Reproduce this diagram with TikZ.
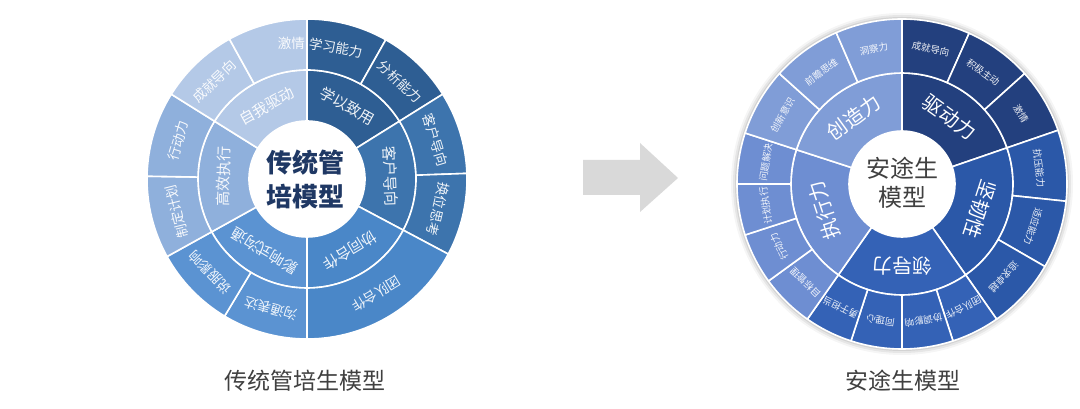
\documentclass[tikz,border=0pt]{standalone}
\usepackage{fontspec}
\setmainfont{Noto Sans CJK SC}
\usetikzlibrary{calc}
\definecolor{lA}{HTML}{2E5E93}
\definecolor{lB}{HTML}{3D74AD}
\definecolor{lC}{HTML}{4A87C8}
\definecolor{lD}{HTML}{5B93D2}
\definecolor{lE}{HTML}{8FB0DC}
\definecolor{lF}{HTML}{B4C9E7}
\definecolor{rA}{HTML}{23407E}
\definecolor{rB}{HTML}{2B58A8}
\definecolor{rC}{HTML}{3462B6}
\definecolor{rD}{HTML}{6E8ED2}
\definecolor{rE}{HTML}{809DD7}
\definecolor{navy}{HTML}{1F3864}
\definecolor{darkgray}{HTML}{404040}
\definecolor{arrowgray}{HTML}{D9D9D9}
\newcommand\wseg[8]{%
  \filldraw[fill=#5, draw=white, line width=1.6pt, line join=round] (#3:#2pt) arc[start angle=#3, end angle=#4, radius=#2pt] -- (#4:#1pt) arc[start angle=#4, end angle=#3, radius=#1pt] -- cycle;
  \pgfmathsetmacro\wmid{(#3+#4)/2}%
  \pgfmathsetmacro\wrad{(#1+#2)/2}%
  \pgfmathsetmacro\wrot{\wmid-90}%
  \node[#8, rotate=\wrot] (#6) at (\wmid:\wrad pt) {#7};%
}
\tikzset{
  lin/.style={text=white, font=\fontsize{15}{15}\selectfont, inner sep=0pt, opacity=0.92},
  lout/.style={text=white, font=\fontsize{13.5}{14}\selectfont, inner sep=0pt, opacity=0.92},
  rin/.style={text=white, font=\fontsize{20}{20}\selectfont, inner sep=0pt},
  rout/.style={text=white, font=\fontsize{9.5}{10}\selectfont, inner sep=0pt, opacity=0.92},
  caption/.style={text=darkgray, font=\fontsize{23}{25}\selectfont},
}
\begin{document}
\begin{tikzpicture}[x=1pt,y=1pt]
\useasboundingbox (0,0) rectangle (1080,409);
\fill[white] (0,0) rectangle (1080,409);
% ---------- left wheel ----------
\begin{scope}[shift={(307,230)}]
  % inner ring
  \wseg{58}{109}{90}{32}{lA}{l1}{学以致用}{lin}
  \wseg{58}{109}{32}{-28}{lB}{l2}{客户导向}{lin}
  \wseg{58}{109}{-28}{-90}{lC}{l3}{协同合作}{lin}
  \wseg{58}{109}{-90}{-151}{lD}{l4}{影响式沟通}{lin}
  \wseg{58}{109}{209}{148}{lE}{l5}{高效执行}{lin}
  \wseg{58}{109}{148}{90}{lF}{l6}{自我驱动}{lin}
  % outer ring
  \wseg{109}{160}{90}{60.5}{lA}{o1}{}{lout}
  \wseg{109}{160}{60.5}{32}{lA}{o2}{分析能力}{lout}
  \wseg{109}{160}{32}{2}{lB}{o3}{客户导向}{lout}
  \wseg{109}{160}{2}{-28}{lB}{o4}{换位思考}{lout}
  \wseg{109}{160}{-28}{-90}{lC}{o5}{团队合作}{lout}
  \wseg{109}{160}{-90}{-121}{lD}{o6}{沟通表达}{lout}
  \wseg{109}{160}{-121}{-151}{lD}{o7}{说服影响}{lout}
  \wseg{109}{160}{209}{179}{lE}{o8}{制定计划}{lout}
  \wseg{109}{160}{179}{148}{lE}{o9}{行动力}{lout}
  \wseg{109}{160}{148}{119}{lF}{o10}{成就导向}{lout}
  \wseg{109}{160}{119}{90}{lF}{o11}{}{lout}
  \node[lout, anchor=east] (o11t) at (-2,136) {激情};
  \node[lout, anchor=west, rotate=-10] (o1t) at (2,136) {学习能力};
  \node[text=navy, font=\fontsize{26}{34}\selectfont\bfseries, align=center] (lc) at (-2,0) {传统管\\培模型};
\end{scope}
\node[caption] (lcap) at (305,28) {传统管培生模型};
% ---------- arrow ----------
\fill[arrowgray] (583,249) -- (640,249) -- (640,266) -- (678,231) -- (640,197) -- (640,214) -- (583,214) -- cycle;
% ---------- right wheel ----------
\begin{scope}[shift={(902,225)}]
  \foreach \r/\o in {171/0.04,169/0.06,167/0.08}{\fill[black, opacity=\o] (0,0) circle[radius=\r pt];}
  \fill[white] (0,0) circle[radius=60pt];
  % inner ring
  \wseg{53}{111}{90}{19}{rA}{r1}{驱动力}{rin}
  \wseg{53}{111}{19}{-55}{rB}{r2}{坚韧性}{rin}
  \wseg{53}{111}{-55}{-125}{rC}{r3}{领导力}{rin}
  \wseg{53}{111}{235}{162}{rD}{r4}{执行力}{rin}
  \wseg{53}{111}{162}{90}{rE}{r5}{创造力}{rin}
  % outer ring
  \wseg{111}{165}{90}{66}{rA}{s1}{成就导向}{rout}
  \wseg{111}{165}{66}{42}{rA}{s2}{积极主动}{rout}
  \wseg{111}{165}{42}{19}{rA}{s3}{激情}{rout}
  \wseg{111}{165}{19}{-6}{rB}{s4}{抗压能力}{rout}
  \wseg{111}{165}{-6}{-30}{rB}{s5}{适应能力}{rout}
  \wseg{111}{165}{-30}{-55}{rB}{s6}{追求卓越}{rout}
  \wseg{111}{165}{-55}{-72}{rC}{s7}{团队合作}{rout}
  \wseg{111}{165}{-72}{-90}{rC}{s8}{协调影响}{rout}
  \wseg{111}{165}{-90}{-108}{rC}{s9}{同理心}{rout}
  \wseg{111}{165}{-108}{-125}{rC}{s10}{勇于担当}{rout}
  \wseg{111}{165}{235}{216}{rD}{s11}{目标管理}{rout}
  \wseg{111}{165}{216}{198}{rD}{s12}{行动力}{rout}
  \wseg{111}{165}{198}{180}{rD}{s13}{计划执行}{rout}
  \wseg{111}{165}{180}{162}{rD}{s14}{问题解决}{rout}
  \wseg{111}{165}{162}{138}{rE}{s15}{创新意识}{rout}
  \wseg{111}{165}{138}{113.5}{rE}{s16}{前瞻思维}{rout}
  \wseg{111}{165}{113.5}{90}{rE}{s17}{洞察力}{rout}
  \node[text=darkgray, font=\fontsize{24}{29}\selectfont, align=center] (rc) at (0,1) {安途生\\模型};
\end{scope}
\node[caption] (rcap) at (903,28) {安途生模型};
\end{tikzpicture}
\end{document}
